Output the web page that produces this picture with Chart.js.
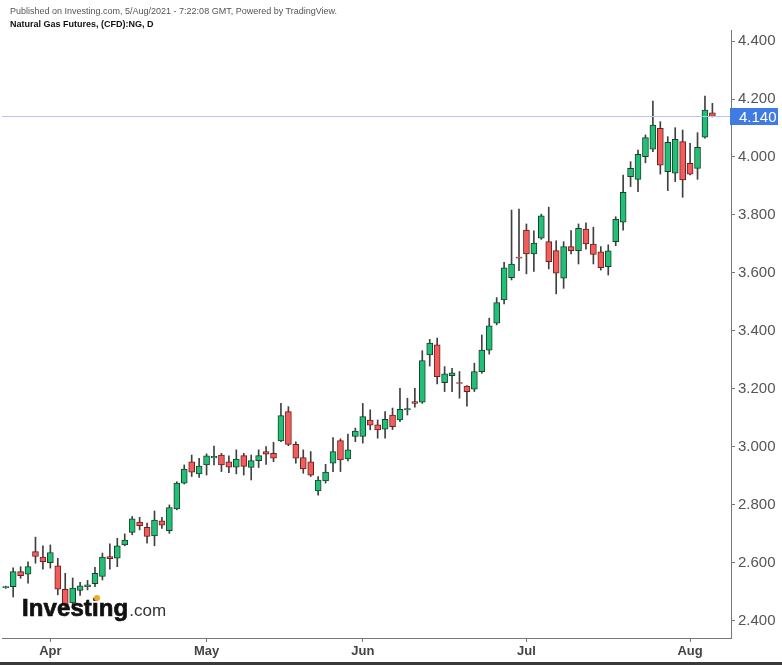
<!DOCTYPE html>
<html>
<head>
<meta charset="utf-8">
<title>Natural Gas Futures</title>
<script src="https://cdn.jsdelivr.net/npm/chart.js@4"></script>
<style>
  body { margin: 0; background: #fff; font-family: "Liberation Sans", Arial, sans-serif; }
  #wrap { position: relative; width: 782px; height: 665px; overflow: hidden; }
  #chart { position: absolute; left: 0; top: 0; }
  .pub { position: absolute; left: 10px; top: 6px; font-size: 9px; color: #555; }
  .title { position: absolute; left: 10px; top: 19px; font-size: 9px; font-weight: bold; color: #111; }
  .logo { position: absolute; left: 22px; top: 594px; white-space: nowrap; }
  .logo b { font-size: 24px; color: #111; -webkit-text-stroke: 0.7px #111; letter-spacing: 0.1px; }
  .logo span { font-size: 17px; color: #333; margin-left: 1px; }
  .dot { position: absolute; left: 94px; top: 595px; width: 6px; height: 6px; border-radius: 3px; background: #f5a623; }
  .strip { position: absolute; left: 0; bottom: 0; width: 782px; height: 3px; background: #3a3a3a; }
</style>
</head>
<body>
<div id="wrap">
  <canvas id="chart" width="782" height="665"></canvas>
  <div class="pub">Published on Investing.com, 5/Aug/2021 - 7:22:08 GMT, Powered by TradingView.</div>
  <div class="title">Natural Gas Futures, (CFD):NG, D</div>
  <div class="logo"><b>Investing</b><span>.com</span></div>
  <div class="dot"></div>
  <div class="strip"></div>
</div>
<script>
// daily candles, 24 Mar 2021 - 5 Aug 2021
let opens = [2.515, 2.518, 2.570, 2.561, 2.639, 2.620, 2.601, 2.590, 2.509, 2.462,
  2.505, 2.518, 2.528, 2.553, 2.622, 2.616, 2.662, 2.705, 2.741, 2.723,
  2.693, 2.745, 2.711, 2.786, 2.875, 2.949, 2.907, 2.938, 2.962, 2.972,
  2.949, 2.930, 2.970, 2.929, 2.953, 2.984, 2.978, 3.021, 3.122, 3.009,
  2.963, 2.949, 2.848, 2.883, 2.944, 3.022, 2.959, 3.036, 3.036, 3.093,
  3.076, 3.061, 3.110, 3.093, 3.128, 3.156, 3.154, 3.317, 3.352, 3.222,
  3.246, 3.222, 3.210, 3.199, 3.260, 3.334, 3.427, 3.507, 3.584, 3.655,
  3.748, 3.666, 3.720, 3.708, 3.677, 3.582, 3.691, 3.677, 3.751, 3.700,
  3.673, 3.622, 3.708, 3.775, 3.932, 3.923, 4.001, 4.027, 4.099, 3.949,
  3.944, 4.053, 3.978, 3.961, 4.068, 4.152];
let highs = [2.520, 2.583, 2.587, 2.604, 2.689, 2.659, 2.662, 2.616, 2.564, 2.548,
  2.533, 2.540, 2.585, 2.634, 2.666, 2.685, 2.700, 2.760, 2.757, 2.737,
  2.779, 2.757, 2.800, 2.880, 2.938, 2.972, 2.961, 2.976, 3.003, 2.978,
  2.969, 2.990, 2.978, 2.972, 2.990, 3.001, 3.016, 3.150, 3.139, 3.018,
  2.990, 2.984, 2.898, 2.940, 3.032, 3.028, 3.044, 3.065, 3.150, 3.128,
  3.093, 3.122, 3.134, 3.202, 3.168, 3.202, 3.332, 3.371, 3.375, 3.277,
  3.271, 3.260, 3.212, 3.289, 3.386, 3.444, 3.515, 3.637, 3.817, 3.820,
  3.769, 3.745, 3.803, 3.827, 3.711, 3.708, 3.746, 3.769, 3.773, 3.758,
  3.691, 3.697, 3.794, 3.938, 3.984, 4.024, 4.076, 4.193, 4.122, 4.070,
  4.101, 4.093, 4.047, 4.084, 4.210, 4.185];
let lows = [2.512, 2.483, 2.547, 2.530, 2.599, 2.578, 2.582, 2.490, 2.440, 2.445,
  2.488, 2.507, 2.518, 2.541, 2.578, 2.587, 2.659, 2.697, 2.714, 2.668,
  2.659, 2.719, 2.702, 2.783, 2.872, 2.898, 2.895, 2.903, 2.938, 2.915,
  2.911, 2.907, 2.903, 2.886, 2.929, 2.940, 2.949, 3.018, 3.004, 2.944,
  2.909, 2.898, 2.834, 2.875, 2.915, 2.915, 2.952, 3.018, 3.013, 3.059,
  3.030, 3.030, 3.060, 3.087, 3.110, 3.137, 3.150, 3.279, 3.217, 3.191,
  3.191, 3.168, 3.141, 3.191, 3.254, 3.320, 3.421, 3.493, 3.576, 3.608,
  3.597, 3.605, 3.716, 3.614, 3.528, 3.547, 3.666, 3.631, 3.682, 3.631,
  3.610, 3.593, 3.694, 3.748, 3.898, 3.880, 3.980, 4.018, 3.941, 3.884,
  3.915, 3.861, 3.938, 3.923, 4.065, 4.138];
let closes = [2.518, 2.570, 2.556, 2.587, 2.622, 2.604, 2.636, 2.509, 2.455, 2.513,
  2.521, 2.524, 2.564, 2.620, 2.615, 2.659, 2.679, 2.752, 2.728, 2.691,
  2.748, 2.730, 2.791, 2.875, 2.924, 2.913, 2.934, 2.969, 2.968, 2.938,
  2.930, 2.958, 2.933, 2.953, 2.970, 2.975, 2.961, 3.108, 3.009, 2.961,
  2.924, 2.903, 2.886, 2.913, 2.984, 2.955, 2.990, 3.055, 3.105, 3.075,
  3.059, 3.095, 3.070, 3.130, 3.132, 3.150, 3.298, 3.358, 3.242, 3.252,
  3.256, 3.219, 3.191, 3.260, 3.334, 3.418, 3.498, 3.618, 3.631, 3.651,
  3.666, 3.703, 3.797, 3.639, 3.599, 3.691, 3.677, 3.754, 3.700, 3.664,
  3.618, 3.676, 3.785, 3.878, 3.961, 4.009, 4.067, 4.110, 3.972, 4.051,
  4.061, 3.921, 3.941, 4.033, 4.162, 4.140];

let monthNames = ["Mar", "Apr", "May", "Jun", "Jul", "Aug"];
let yTicks = [2.4, 2.6, 2.8, 3.0, 3.2, 3.4, 3.6, 3.8, 4.0, 4.2, 4.4];
let holidays = ["2021-04-02"];

// trading days for the categories
let days = [];
let d = new Date(Date.UTC(2021, 2, 24));
while (days.length < closes.length) {
    let iso = d.toISOString().slice(0, 10);
    if (d.getUTCDay() != 0 && d.getUTCDay() != 6 && !holidays.includes(iso)) days.push(iso);
    d.setUTCDate(d.getUTCDate() + 1);
}
let monthAt = {};
days.forEach((day, i) => {
    if (i > 0 && day.slice(5, 7) != days[i - 1].slice(5, 7)) {
        monthAt[i] = monthNames[parseInt(day.slice(5, 7)) - 3];
    }
});
// two empty slots keep a gap before the price axis
let labels = days.concat(["", ""]);

let up = closes.map((c, i) => c >= opens[i]);
let bodies = opens.map((o, i) => [Math.min(o, closes[i]), Math.max(o, closes[i])]);
let wicks = lows.map((l, i) => [l, highs[i]]);

const lastPrice = {
    id: "lastPrice",
    afterDraw(chart) {
        const c = chart.ctx;
        const area = chart.chartArea;
        const last = closes[closes.length - 1];
        const y = Math.round(chart.scales.y.getPixelForValue(last)) + 0.5;
        c.save();
        c.strokeStyle = "#bcc3ef";
        c.lineWidth = 1;
        c.beginPath();
        c.moveTo(area.left, y);
        c.lineTo(area.right, y);
        c.stroke();
        c.fillStyle = "#3f7be3";
        c.fillRect(area.right - 1, y - 8.5, 48, 17);
        c.fillStyle = "#fff";
        c.font = "15px 'Liberation Sans', Arial, sans-serif";
        c.textBaseline = "middle";
        c.fillText(last.toFixed(3), area.right + 8, y + 1);
        c.restore();
    }
};

Chart.defaults.font.family = "'Liberation Sans', Arial, sans-serif";

let chart = new Chart(document.getElementById("chart").getContext("2d"), {
    type: "bar",
    data: {
        labels: labels,
        datasets: [{
            data: bodies,
            backgroundColor: up.map(u => u ? "#20c177" : "#f25d5b"),
            borderColor: up.map(u => u ? "#1c3f2d" : "#6b1f1f"),
            borderWidth: 1,
            borderSkipped: false,
            barThickness: 6,
            grouped: false,
            order: 0
        }, {
            data: wicks,
            backgroundColor: "#404040",
            barThickness: 1,
            grouped: false,
            order: 1
        }]
    },
    options: {
        responsive: false,
        animation: false,
        layout: { padding: { top: 30, left: 2, right: 0, bottom: 0 } },
        plugins: { legend: { display: false }, tooltip: { enabled: false } },
        scales: {
            x: {
                grid: {
                    offset: false,
                    drawOnChartArea: false,
                    tickLength: 4,
                    color: ctx => monthAt[ctx.index] ? "#777" : "rgba(0,0,0,0)"
                },
                border: { color: "#777" },
                ticks: {
                    autoSkip: false,
                    maxRotation: 0,
                    padding: 2,
                    color: "#444",
                    font: { size: 13, weight: "bold" },
                    callback: (v, i) => monthAt[i] || ""
                },
                afterFit: s => { s.height = 27; }
            },
            y: {
                position: "right",
                min: 2.341,
                max: 4.438,
                grid: { drawOnChartArea: false, tickLength: 4, color: "#777" },
                border: { color: "#777" },
                afterBuildTicks: s => { s.ticks = yTicks.map(v => ({ value: v })); },
                ticks: {
                    padding: 3,
                    color: "#555",
                    font: { size: 15 },
                    callback: v => v.toFixed(3)
                },
                afterFit: s => { s.width = 51; }
            }
        }
    },
    plugins: [lastPrice]
});
</script>
</body>
</html>
